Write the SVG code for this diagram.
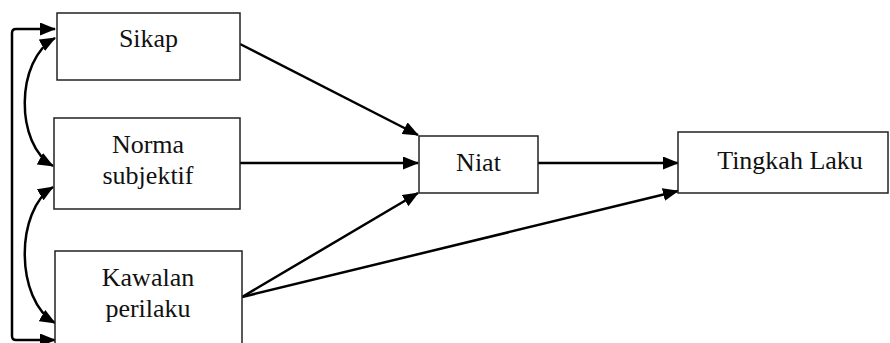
<svg xmlns="http://www.w3.org/2000/svg" width="890" height="343" viewBox="0 0 890 343">
<style>
.box{fill:#fff;stroke:#222;stroke-width:1.5}
.lbl{font-family:"Liberation Serif","Times New Roman",serif;font-size:26px;fill:#111;text-anchor:middle}
.con{fill:none;stroke:#000;stroke-width:2.5}
</style>
<defs>
<marker id="ah" viewBox="0 0 16 13" refX="15" refY="6.5" markerWidth="16" markerHeight="13" markerUnits="userSpaceOnUse" orient="auto-start-reverse">
<path d="M0,0 L16,6.5 L0,13 z" fill="#000"/>
</marker>
</defs>
<rect width="890" height="343" fill="#fff"/>
<g id="connectors">
<path class="con" d="M240,44 L418,135" marker-end="url(#ah)"/>
<path class="con" d="M240,163 L418,163" marker-end="url(#ah)"/>
<path class="con" d="M242,297 L418,193" marker-end="url(#ah)"/>
<path class="con" d="M242,297 L678,191" marker-end="url(#ah)"/>
<path class="con" d="M538,163 L678,163" marker-end="url(#ah)"/>
<path class="con" d="M55,29 H16 Q12,29 12,33 V336 Q12,340 16,340 H55" marker-start="url(#ah)" marker-end="url(#ah)"/>
<path class="con" d="M55,38 C15,60 15,145 53,166" marker-start="url(#ah)" marker-end="url(#ah)"/>
<path class="con" d="M53,187 C15,210 15,300 55,323" marker-start="url(#ah)" marker-end="url(#ah)"/>
</g>
<g id="sikap">
<rect class="box" x="57" y="13" width="183" height="67"/>
<text class="lbl" x="148.5" y="47">Sikap</text>
</g>
<g id="norma">
<rect class="box" x="54" y="118" width="186" height="91"/>
<text class="lbl" x="148" y="153">Norma</text>
<text class="lbl" x="148" y="184">subjektif</text>
</g>
<g id="kawalan">
<rect class="box" x="55" y="251" width="187" height="100"/>
<text class="lbl" x="148" y="286">Kawalan</text>
<text class="lbl" x="148" y="317">perilaku</text>
</g>
<g id="niat">
<rect class="box" x="419" y="136" width="119" height="57"/>
<text class="lbl" x="478.5" y="171">Niat</text>
</g>
<g id="tingkah">
<rect class="box" x="678" y="132" width="210" height="61"/>
<text class="lbl" x="790" y="169">Tingkah Laku</text>
</g>
</svg>
